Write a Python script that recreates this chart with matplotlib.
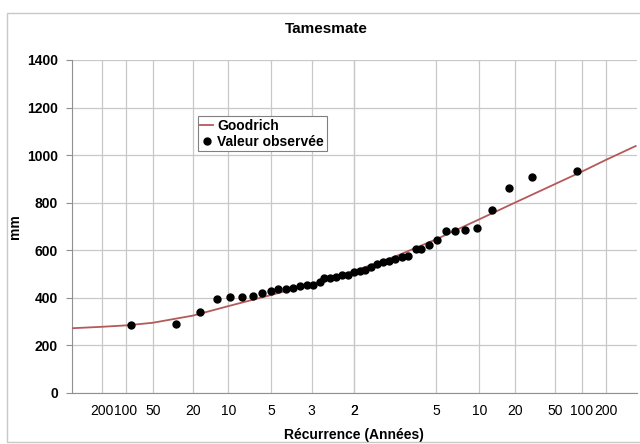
import matplotlib
matplotlib.use('Agg')
import matplotlib.pyplot as plt
from matplotlib.patches import Rectangle
from statistics import NormalDist

plt.rcParams['font.family'] = ['Liberation Sans', 'DejaVu Sans']

# --- données ---
# valeurs observées (mm) et variable réduite de Gauss lue sur le graphe
obs_z = [-2.28, -1.82, -1.57, -1.40, -1.26, -1.14, -1.03, -0.94, -0.85, -0.77,
         -0.69, -0.62, -0.55, -0.48, -0.42, -0.35, -0.30, -0.24, -0.18, -0.12,
         -0.06, 0.00, 0.06, 0.11, 0.18, 0.24, 0.30, 0.36, 0.42, 0.49,
         0.55, 0.63, 0.69, 0.77, 0.85, 0.94, 1.03, 1.14, 1.26, 1.41,
         1.58, 1.82, 2.28]
obs_mm = [284, 290, 340, 395, 402, 403, 408, 420, 430, 436,
          438, 442, 451, 454, 455, 466, 483, 483, 489, 494,
          496, 508, 514, 517, 531, 542, 552, 555, 563, 570,
          576, 605, 606, 621, 642, 682, 682, 685, 693, 768,
          860, 906, 933]

# courbe de Goodrich : quantiles lus pour chaque période de retour
dry_T = [500, 200, 100, 50, 20, 10, 5, 3, 2]
dry_mm = [272, 278, 284, 295, 325, 365, 412, 458, 512]
wet_T = [3, 5, 10, 20, 50, 100, 200, 500]
wet_mm = [575, 646, 730, 800, 878, 930, 980, 1038]

# graduations de l'axe des récurrences (sec à gauche, humide à droite)
dry_ticks = [200, 100, 50, 20, 10, 5, 3, 2]
wet_ticks = [2, 5, 10, 20, 50, 100, 200]

nd = NormalDist()
curve_z = [nd.inv_cdf(1 / t) for t in dry_T] + [nd.inv_cdf(1 - 1 / t) for t in wet_T]
curve_mm = dry_mm + wet_mm

fig = plt.figure(figsize=(6.4, 4.44), dpi=100)
ax = fig.add_axes([0.1125, 0.115, 0.8825, 0.75])

ax.plot(curve_z, curve_mm, color='#b5595a', lw=1.3, label='Goodrich', zorder=3)
ax.plot(obs_z, obs_mm, 'o', color='black', ms=5, label='Valeur observée', zorder=4)

tick_pos = [nd.inv_cdf(1 / t) for t in dry_ticks] + [nd.inv_cdf(1 - 1 / t) for t in wet_ticks]
tick_lab = [str(t) for t in dry_ticks + wet_ticks]
ax.set_xticks(tick_pos)
ax.set_xticklabels(tick_lab, fontsize=10)
ax.tick_params(axis='x', length=0, pad=8)

ax.set_xlim(-2.878, 2.89)
ax.set_ylim(0, 1400)
ax.set_yticks(range(0, 1401, 200))
ax.tick_params(axis='y', length=4, color='#909090', labelsize=10, pad=6)
for lab in ax.get_yticklabels():
    lab.set_fontweight('bold')

ax.grid(True, color='#c8c8c8', lw=0.9)
ax.set_axisbelow(True)
for side in ['top', 'right']:
    ax.spines[side].set_visible(False)
for side in ['left', 'bottom']:
    ax.spines[side].set_color('#909090')

ax.set_xlabel('Récurrence (Années)', fontsize=10, fontweight='bold', labelpad=7)
ax.set_ylabel('mm', fontsize=10, fontweight='bold')
ax.yaxis.set_label_coords(-0.088, 0.5)
fig.text(0.51, 0.935, 'Tamesmate', ha='center', va='center', fontsize=11, fontweight='bold')

leg = ax.legend(loc='upper left', bbox_to_anchor=(0.21, 0.853), frameon=True,
                fancybox=False, edgecolor='#808080', framealpha=1,
                handlelength=0.9, handletextpad=0.3, borderpad=0.2,
                labelspacing=0.15, prop={'weight': 'bold', 'size': 10})
leg.get_frame().set_linewidth(0.8)

# cadre du graphique
fig.patches.append(Rectangle((7 / 640, 2 / 444), 1.0, 1 - 15 / 444,
                             transform=fig.transFigure, fill=False,
                             edgecolor='#c8c8c8', lw=1))

fig.savefig('out.png', dpi=100)
